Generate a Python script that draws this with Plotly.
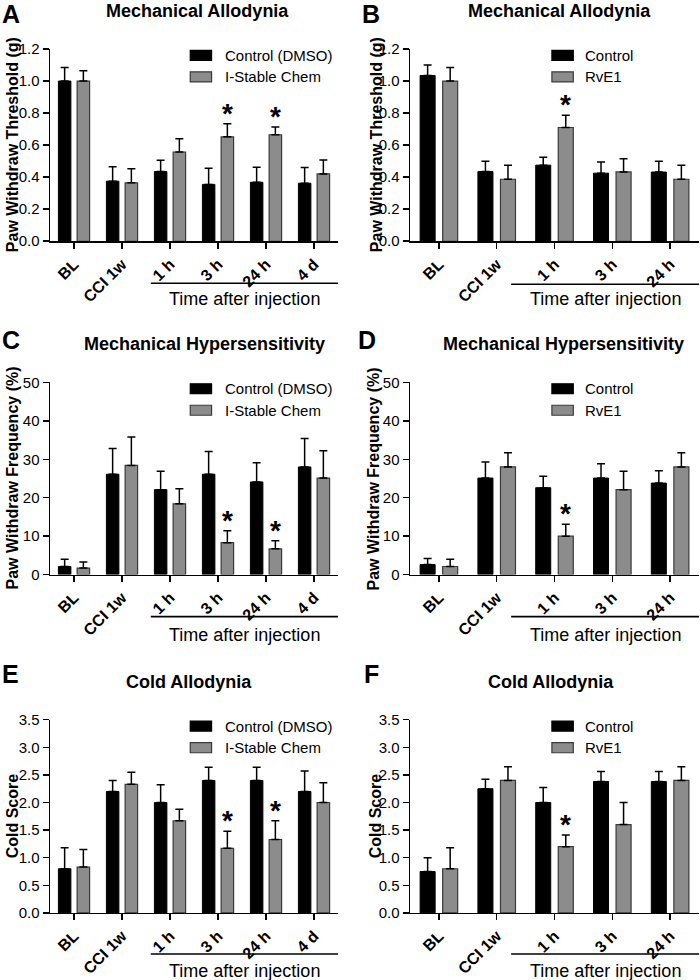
import plotly.graph_objects as go

# ---------------- data ----------------
cats6 = ["BL", "CCI 1w", "1 h", "3 h", "24 h", "4 d"]
cats5 = ["BL", "CCI 1w", "1 h", "3 h", "24 h"]

A_ctrl = [1.00, 0.375, 0.435, 0.355, 0.368, 0.362]
A_ctrl_err = [0.085, 0.090, 0.070, 0.100, 0.094, 0.098]
A_trt = [1.00, 0.365, 0.557, 0.652, 0.665, 0.420]
A_trt_err = [0.065, 0.087, 0.083, 0.081, 0.048, 0.087]

B_ctrl = [1.035, 0.435, 0.475, 0.425, 0.432]
B_ctrl_err = [0.065, 0.065, 0.050, 0.070, 0.068]
B_trt = [1.00, 0.387, 0.710, 0.433, 0.387]
B_trt_err = [0.085, 0.088, 0.077, 0.082, 0.088]

C_ctrl = [2.1, 26.1, 22.1, 26.1, 24.1, 28.0]
C_ctrl_err = [1.9, 6.7, 4.8, 5.9, 5.0, 7.4]
C_trt = [1.7, 28.4, 18.4, 8.3, 6.7, 25.1]
C_trt_err = [1.6, 7.4, 3.9, 3.1, 2.1, 7.1]

D_ctrl = [2.6, 25.1, 22.6, 25.1, 23.8]
D_ctrl_err = [1.6, 4.2, 3.0, 3.7, 3.2]
D_trt = [2.1, 28.0, 10.0, 22.1, 28.0]
D_trt_err = [1.9, 3.7, 3.1, 4.8, 3.7]

E_ctrl = [0.80, 2.20, 2.00, 2.40, 2.40, 2.20]
E_ctrl_err = [0.38, 0.20, 0.32, 0.24, 0.24, 0.37]
E_trt = [0.83, 2.33, 1.67, 1.17, 1.33, 2.00]
E_trt_err = [0.32, 0.22, 0.21, 0.31, 0.34, 0.36]

F_ctrl = [0.75, 2.25, 2.00, 2.38, 2.38]
F_ctrl_err = [0.25, 0.17, 0.27, 0.18, 0.18]
F_trt = [0.80, 2.40, 1.20, 1.60, 2.40]
F_trt_err = [0.38, 0.25, 0.21, 0.40, 0.25]

A_sig = [3, 4]
B_sig = [2]
C_sig = [3, 4]
D_sig = [2]
E_sig = [3, 4]
F_sig = [2]

ticks_thr = [0.0, 0.2, 0.4, 0.6, 0.8, 1.0, 1.2]
ticks_freq = [0, 10, 20, 30, 40, 50]
ticks_cold = [0.0, 0.5, 1.0, 1.5, 2.0, 2.5, 3.0, 3.5]

legend_dmso = ["Control (DMSO)", "I-Stable Chem"]
legend_rve = ["Control", "RvE1"]

# ---------------- layout geometry ----------------
W = 700
HP = 1000          # page height of the figure
FONT = "Liberation Sans, Arial, Helvetica, sans-serif"
GRAY = "#8c8c8c"
EDGE = "#3a3a3a"


def Y(yt):
    """target pixel row in the photographed picture -> paper fraction"""
    return 1 - ((yt - 8) / 0.982) / HP


def X(xt):
    return xt / W


xdom_left = [X(50), X(338)]
xdom_right = [X(410), X(699)]
rows = [(48, 240), (381, 573), (718, 911)]
ydom_rows = [[Y(b), Y(t)] for t, b in rows]

panels = [
    dict(letter="A", title="Mechanical Allodynia", cats=cats6, c=A_ctrl, ce=A_ctrl_err, t=A_trt, te=A_trt_err,
         sig=A_sig, ticks=ticks_thr, fmt=".1f", ytitle="Paw Withdraw Threshold (g)", leg=legend_dmso,
         xd=xdom_left, yd=ydom_rows[0], title_x=197, title_y=10, letter_x=0, letter_y=13, ytx=12,
         line0=1.6, line_y=282, time_y=298),
    dict(letter="B", title="Mechanical Allodynia", cats=cats5, c=B_ctrl, ce=B_ctrl_err, t=B_trt, te=B_trt_err,
         sig=B_sig, ticks=ticks_thr, fmt=".1f", ytitle="Paw Withdraw Threshold (g)", leg=legend_rve,
         xd=xdom_right, yd=ydom_rows[0], title_x=559, title_y=10, letter_x=360, letter_y=13, ytx=376,
         line0=1.25, line_y=283, time_y=298),
    dict(letter="C", title="Mechanical Hypersensitivity", cats=cats6, c=C_ctrl, ce=C_ctrl_err, t=C_trt, te=C_trt_err,
         sig=C_sig, ticks=ticks_freq, fmt="d", ytitle="Paw Withdraw Frequency (%)", leg=legend_dmso,
         xd=xdom_left, yd=ydom_rows[1], title_x=204, title_y=343, letter_x=0, letter_y=339, ytx=12,
         line0=1.6, line_y=615, time_y=633),
    dict(letter="D", title="Mechanical Hypersensitivity", cats=cats5, c=D_ctrl, ce=D_ctrl_err, t=D_trt, te=D_trt_err,
         sig=D_sig, ticks=ticks_freq, fmt="d", ytitle="Paw Withdraw Frequency (%)", leg=legend_rve,
         xd=xdom_right, yd=ydom_rows[1], title_x=563, title_y=343, letter_x=356, letter_y=339, ytx=373,
         line0=1.25, line_y=615, time_y=633),
    dict(letter="E", title="Cold Allodynia", cats=cats6, c=E_ctrl, ce=E_ctrl_err, t=E_trt, te=E_trt_err,
         sig=E_sig, ticks=ticks_cold, fmt=".1f", ytitle="Cold Score", leg=legend_dmso,
         xd=xdom_left, yd=ydom_rows[2], title_x=189, title_y=680, letter_x=0, letter_y=672, ytx=12,
         line0=1.6, line_y=952, time_y=969),
    dict(letter="F", title="Cold Allodynia", cats=cats5, c=F_ctrl, ce=F_ctrl_err, t=F_trt, te=F_trt_err,
         sig=F_sig, ticks=ticks_cold, fmt=".1f", ytitle="Cold Score", leg=legend_rve,
         xd=xdom_right, yd=ydom_rows[2], title_x=551, title_y=680, letter_x=362, letter_y=672, ytx=375,
         line0=1.25, line_y=952, time_y=969),
]

BW = 0.26
OFF_C = -0.195
OFF_T = 0.195

fig = go.Figure()
annotations = []
shapes = []
layout_axes = {}

for i, p in enumerate(panels):
    n = i + 1
    xa = "x" if n == 1 else f"x{n}"
    ya = "y" if n == 1 else f"y{n}"
    xkey = "xaxis" if n == 1 else f"xaxis{n}"
    ykey = "yaxis" if n == 1 else f"yaxis{n}"
    ncat = len(p["cats"])
    err_style = dict(type="data", symmetric=False, color="black", thickness=1.5, width=4)

    fig.add_trace(go.Bar(
        x=p["cats"], y=p["c"], xaxis=xa, yaxis=ya, width=BW, offset=OFF_C - BW / 2,
        marker=dict(color="black", line=dict(color="black", width=1)),
        error_y=dict(array=p["ce"], arrayminus=[0] * ncat, **err_style),
        name=p["leg"][0], showlegend=False, hoverinfo="skip"))
    fig.add_trace(go.Bar(
        x=p["cats"], y=p["t"], xaxis=xa, yaxis=ya, width=BW, offset=OFF_T - BW / 2,
        marker=dict(color=GRAY, line=dict(color=EDGE, width=1.2)),
        error_y=dict(array=p["te"], arrayminus=[0] * ncat, **err_style),
        name=p["leg"][1], showlegend=False, hoverinfo="skip"))

    ymax = p["ticks"][-1]
    layout_axes[xkey] = dict(
        domain=p["xd"], anchor=ya, type="category", range=[-0.5, ncat - 0.5],
        showline=True, linecolor="black", linewidth=1.5, ticks="outside", ticklen=6,
        tickwidth=1.5, tickcolor="black", tickangle=-45, showgrid=False, zeroline=False,
        tickfont=dict(family=FONT, size=16, color="black", weight="bold"))
    layout_axes[ykey] = dict(
        domain=p["yd"], anchor=xa, range=[0, ymax], tickvals=p["ticks"],
        ticktext=[format(v, p["fmt"]) for v in p["ticks"]],
        showline=True, linecolor="black", linewidth=1.5, ticks="outside", ticklen=6,
        tickwidth=1.5, tickcolor="black", showgrid=False, zeroline=False,
        tickfont=dict(family=FONT, size=15, color="black"))

    xd_ref = f"{xa} domain"
    yd_ref = f"{ya} domain"

    annotations.append(dict(text=f"<b>{p['letter']}</b>", xref="paper", yref="paper",
                            x=X(p["letter_x"]), y=Y(p["letter_y"]), xanchor="left", yanchor="middle",
                            showarrow=False, font=dict(family=FONT, size=25, color="black")))
    annotations.append(dict(text=f"<b>{p['title']}</b>", xref="paper", yref="paper",
                            x=X(p["title_x"]), y=Y(p["title_y"]), xanchor="center", yanchor="middle",
                            showarrow=False, font=dict(family=FONT, size=18, color="black")))
    annotations.append(dict(text=f"<b>{p['ytitle']}</b>", xref="paper", yref=yd_ref,
                            x=X(p["ytx"]), y=0.5, xanchor="center", yanchor="middle", textangle=-90,
                            showarrow=False, font=dict(family=FONT, size=16, color="black")))
    shapes.append(dict(type="line", xref=xa, yref="paper", x0=p["line0"], x1=ncat - 0.5,
                       y0=Y(p["line_y"]), y1=Y(p["line_y"]), line=dict(color="black", width=1.6)))
    annotations.append(dict(text="Time after injection", xref=xa, yref="paper",
                            x=(p["line0"] + ncat - 0.5) / 2, y=Y(p["time_y"]), xanchor="center",
                            yanchor="middle", showarrow=False, font=dict(family=FONT, size=18, color="black")))
    sq_x0 = 0.487 if p["xd"] is xdom_left else 0.491
    for k, (lab, col, edge) in enumerate(zip(p["leg"], ["black", GRAY], ["black", EDGE])):
        yc = 0.967 - k * 0.112
        shapes.append(dict(type="rect", xref=xd_ref, yref=yd_ref, x0=sq_x0, x1=sq_x0 + 0.074,
                           y0=yc - 0.026, y1=yc + 0.026, fillcolor=col, line=dict(color=edge, width=1.2)))
        annotations.append(dict(text=lab, xref=xd_ref, yref=yd_ref, x=0.600, y=yc,
                                xanchor="left", yanchor="middle", showarrow=False,
                                font=dict(family=FONT, size=15, color="black")))
    for j in p["sig"]:
        annotations.append(dict(text="<b>*</b>", xref=xa, yref=ya, x=j + OFF_T, y=p["t"][j] + p["te"][j],
                                xanchor="center", yanchor="bottom", yshift=-7, showarrow=False,
                                font=dict(family=FONT, size=28, color="black")))

fig.update_layout(
    width=W, height=HP, margin=dict(l=0, r=0, t=0, b=0),
    paper_bgcolor="white", plot_bgcolor="white", showlegend=False,
    barmode="overlay", annotations=annotations, shapes=shapes,
    font=dict(family=FONT, color="black"), **layout_axes)

page_fix = (
    "document.documentElement.style.margin='0';"
    "document.documentElement.style.overflow='hidden';"
    "document.body.style.margin='0';"
    "document.body.style.padding='0';"
    "document.body.style.overflow='hidden';"
    "var g=document.getElementsByClassName('plotly-graph-div')[0];"
    "g.style.position='fixed';g.style.top='0px';g.style.left='0px';"
)

fig.write_html("out.html", config={"displayModeBar": False, "staticPlot": True}, post_script=page_fix)
